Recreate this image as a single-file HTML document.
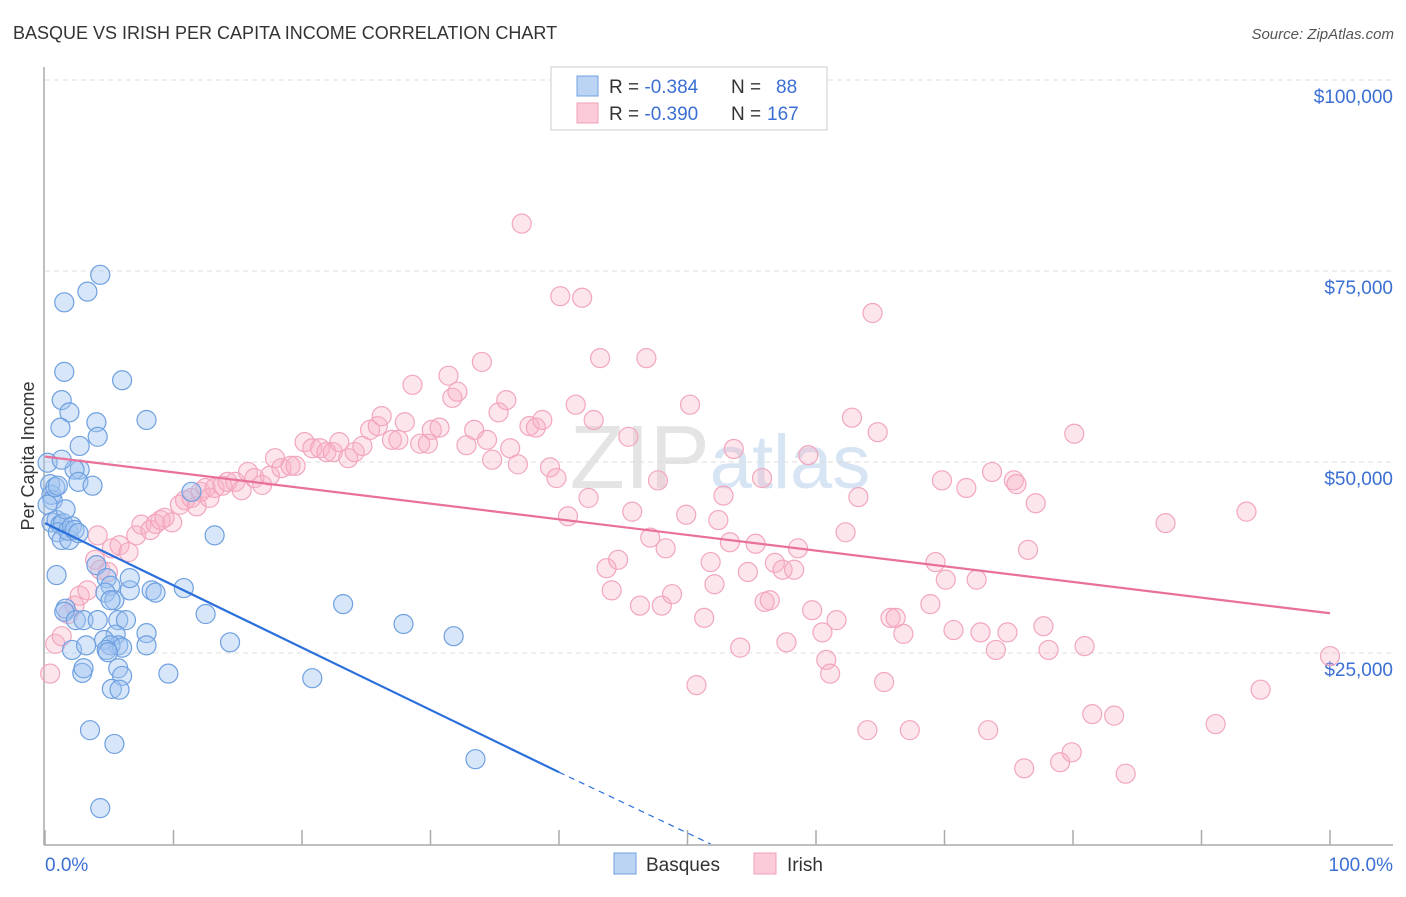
<!DOCTYPE html>
<html><head><meta charset="utf-8"><style>
body{margin:0;background:#fff;font-family:"Liberation Sans",sans-serif}
svg text{font-family:"Liberation Sans",sans-serif}
</style></head><body>
<svg id="chart" width="1406" height="892" xmlns="http://www.w3.org/2000/svg">
<text x="13" y="39" font-size="18" fill="#333">BASQUE VS IRISH PER CAPITA INCOME CORRELATION CHART</text>
<text x="1394" y="39" font-size="15" fill="#555" text-anchor="end" font-style="italic">Source: ZipAtlas.com</text>
<text x="720" y="488" font-size="90" fill="#e4e4e4" text-anchor="middle" font-family="Liberation Serif">ZIP<tspan fill="#d6e4f4" font-family="Liberation Sans" font-size="76">atlas</tspan></text>
<g id="grid"></g>
<g id="axes"></g>
<g id="points"></g>
<g id="lines"></g>
<text transform="translate(34,456) rotate(-90)" font-size="18" fill="#333" text-anchor="middle">Per Capita Income</text>
<g>
<rect x="551" y="67" width="276" height="63" fill="#fff" stroke="#ccc"/>
<rect x="577" y="76" width="21" height="20" fill="#bcd4f4" stroke="#6fa0e0"/>
<rect x="577" y="103" width="21" height="20" fill="#fbcbd9" stroke="#f0a0b8"/>
<text x="609" y="93" font-size="19" fill="#333">R = <tspan fill="#3b6fd4">-0.384</tspan><tspan x="731">N = </tspan><tspan x="776" fill="#3b6fd4">88</tspan></text>
<text x="609" y="120" font-size="19" fill="#333">R = <tspan fill="#3b6fd4">-0.390</tspan><tspan x="731">N = </tspan><tspan x="767" fill="#3b6fd4">167</tspan></text>
</g>
<g>
<rect x="614" y="853" width="22" height="21" fill="#bcd4f4" stroke="#6fa0e0"/>
<text x="646" y="871" font-size="19" fill="#333">Basques</text>
<rect x="754" y="853" width="22" height="21" fill="#fbcbd9" stroke="#f0a0b8"/>
<text x="787" y="871" font-size="19" fill="#333">Irish</text>
</g>
</svg>
<script>
const yTicks=[25000,50000,75000,100000];
const yTickLabels=["$25,000","$50,000","$75,000","$100,000"];
const xTickLabels=["0.0%","100.0%"];
const basqueX=[0.2,0.4,0.5,0.6,0.8,1.0,0.2,0.5,0.9,1.2,1.4,1.0,1.3,1.9,1.8,2.1,2.3,2.6,1.6,2.7,2.3,2.6,3.7,1.3,1.5,1.3,1.9,1.2,4.0,4.1,2.7,4.3,3.3,1.5,6.0,7.9,0.9,1.6,1.5,2.4,3.0,2.1,3.2,2.9,3.0,4.0,4.8,5.1,4.7,5.4,6.6,6.6,4.1,5.1,5.7,6.3,5.5,5.7,4.6,5.1,6.0,4.8,7.9,7.9,8.3,8.6,10.8,5.7,6.0,9.6,12.5,14.4,5.2,13.2,11.4,23.2,27.9,31.8,20.8,33.5,3.5,5.4,4.3,5.8,4.9];
const basqueY=[49.9,47.1,45.7,45.0,46.7,46.9,44.4,42.1,42.4,41.8,42.0,40.8,39.8,39.8,41.0,41.6,41.1,40.7,43.8,49.0,49.0,47.4,46.9,50.3,61.8,58.1,56.5,54.5,55.2,53.3,52.1,74.5,72.3,70.9,60.7,55.5,35.2,30.8,30.4,29.3,29.3,25.4,26.0,22.4,23.0,36.5,34.8,33.8,32.9,31.9,33.2,34.8,29.3,31.9,29.3,29.3,27.4,26.0,26.7,26.0,25.7,25.4,27.6,26.0,33.2,32.9,33.5,23.0,22.0,22.3,30.1,26.4,20.3,40.4,46.1,31.4,28.8,27.2,21.7,11.1,14.9,13.1,4.7,20.2,25.1];
const irishX=[0.4,0.8,1.3,1.8,2.3,2.7,3.3,3.9,4.3,4.9,4.1,5.2,5.8,6.5,7.1,7.5,8.2,8.6,9.0,9.3,9.9,10.5,10.9,11.4,11.8,12.1,12.5,12.8,13.2,13.8,14.2,14.8,15.3,15.8,16.3,16.9,17.5,17.9,18.4,19.1,19.5,20.2,20.8,21.4,21.9,22.4,22.9,23.6,24.1,24.7,25.3,25.9,26.2,27.0,27.5,28.0,28.6,29.2,29.8,30.1,30.7,31.4,31.7,32.1,32.8,33.4,34.0,34.4,34.8,35.3,35.9,36.2,36.8,37.1,37.7,38.2,38.7,39.3,39.8,40.1,40.7,41.3,41.8,42.3,42.7,43.2,43.7,44.1,44.6,45.4,45.7,46.3,46.8,47.1,47.7,48.0,48.3,48.8,49.9,50.2,50.7,51.3,51.8,52.1,52.4,52.8,53.3,53.6,54.1,54.7,55.3,55.8,56.0,56.4,56.8,57.4,57.7,58.3,58.6,59.4,59.7,60.5,60.8,61.1,61.6,62.3,62.8,63.3,64.0,64.4,64.8,65.3,65.8,66.2,66.8,67.3,68.9,69.3,69.8,70.1,70.7,71.7,72.5,72.8,73.4,73.7,74.0,74.9,75.4,75.6,76.2,76.5,77.1,77.7,78.1,79.0,79.9,80.1,80.9,81.5,83.2,84.1,87.2,91.1,93.5,94.6,100.0];
const irishY=[22.3,26.2,27.2,30.1,31.2,32.5,33.2,37.2,35.9,35.6,40.4,38.7,39.1,38.2,40.4,41.8,41.1,41.9,42.4,42.7,42.1,44.4,45.0,45.3,44.2,46.1,46.6,45.3,46.6,46.9,47.4,47.4,46.3,48.7,47.9,47.0,48.2,50.5,49.2,49.5,49.5,52.6,51.8,51.8,51.3,51.3,52.6,50.5,51.3,52.1,54.2,54.7,56.0,52.9,52.9,55.2,60.1,52.4,52.4,54.2,54.5,61.3,58.4,59.2,52.2,54.2,63.1,52.9,50.3,56.5,58.1,51.8,49.7,81.2,54.7,54.5,55.5,49.3,47.9,71.7,42.9,57.5,71.5,45.3,55.5,63.6,36.1,33.2,37.2,53.3,43.5,31.2,63.6,40.1,47.6,31.2,38.7,32.7,43.1,57.5,20.8,29.6,36.9,34.0,42.4,45.6,39.5,51.7,25.7,35.6,39.3,47.9,31.7,31.9,36.8,35.9,26.4,35.9,38.7,50.9,30.6,27.7,24.1,22.3,29.3,40.8,55.8,45.4,14.9,69.5,53.9,21.2,29.6,29.6,27.5,14.9,31.4,36.9,47.6,34.6,28.0,46.6,34.6,27.7,14.9,48.7,25.4,27.7,47.6,47.1,9.9,38.5,44.6,28.5,25.4,10.7,12.0,53.7,25.9,17.0,16.8,9.2,42.0,15.7,43.5,20.2,24.6];
const basqueTrend=[[0,42.0],[40,9.4]];
const basqueTrendExt=[[40,9.4],[51.8,0]];
const irishTrend=[[0,50.7],[100,30.2]];

const NS="http://www.w3.org/2000/svg";
const xs=v=>45+v*12.85;
const ys=v=>844-v*191/25;
function mk(tag,attrs,parent){const e=document.createElementNS(NS,tag);for(const k in attrs)e.setAttribute(k,attrs[k]);parent.appendChild(e);return e;}
const grid=document.getElementById('grid'),axes=document.getElementById('axes'),pts=document.getElementById('points'),lines=document.getElementById('lines');
yTicks.forEach((t,i)=>{
  const y=ys(t/1000);
  const l=mk('line',{x1:45,x2:1393,y1:y,y2:y,stroke:'#ddd','stroke-dasharray':'5,4'},grid);
  
  
  const tx=mk('text',{x:1393,y:y+23,'font-size':19,fill:'#3b6fd4','text-anchor':'end'},axes);
  tx.textContent=yTickLabels[i];
  
  
});
const ax=mk('line',{x1:44,x2:44,y1:67,y2:845,stroke:'#aaa','stroke-width':1.5},axes);


const bx=mk('line',{x1:44,x2:1393,y1:845,y2:845,stroke:'#aaa','stroke-width':1.5},axes);


for(let i=0;i<=10;i++){
  const t=mk('line',{x1:xs(i*10),x2:xs(i*10),y1:830,y2:845,stroke:'#aaa','stroke-width':1.5},axes);
  
  
}
[[0,'start',45],[100,'end',1393]].forEach((d,i)=>{
  const t=mk('text',{x:d[2],y:871,'font-size':19,fill:'#3b6fd4','text-anchor':d[1]},axes);
  t.textContent=xTickLabels[i];
  
  
});
irishX.forEach((x,i)=>{
  const c=mk('circle',{cx:xs(x),cy:ys(irishY[i]),r:9.5,fill:'rgba(248,175,198,0.33)',stroke:'#f2a6be','stroke-width':1.2},pts);
  
  
});
basqueX.forEach((x,i)=>{
  const c=mk('circle',{cx:xs(x),cy:ys(basqueY[i]),r:9.5,fill:'rgba(160,195,240,0.42)',stroke:'#6fa0e0','stroke-width':1.2},pts);
  
  
});
const bt=mk('line',{x1:xs(basqueTrend[0][0]),y1:ys(basqueTrend[0][1]),x2:xs(basqueTrend[1][0]),y2:ys(basqueTrend[1][1]),stroke:'#2a6fdb','stroke-width':2.2},lines);


const be=mk('line',{x1:xs(basqueTrendExt[0][0]),y1:ys(basqueTrendExt[0][1]),x2:xs(basqueTrendExt[1][0]),y2:ys(basqueTrendExt[1][1]),stroke:'#2a6fdb','stroke-width':1.2,'stroke-dasharray':'6,5'},lines);


const it=mk('line',{x1:xs(irishTrend[0][0]),y1:ys(irishTrend[0][1]),x2:xs(irishTrend[1][0]),y2:ys(irishTrend[1][1]),stroke:'#e8709a','stroke-width':2.2},lines);


</script>
</body></html>
